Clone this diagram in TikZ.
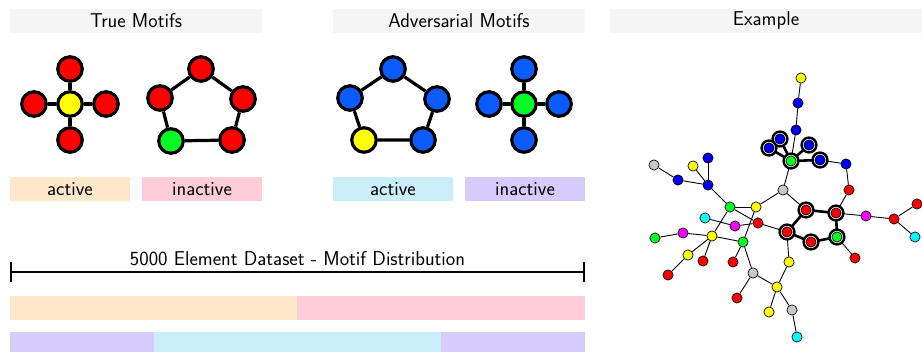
\documentclass[tikz,border=0pt]{standalone}
\usepackage{fontspec}
\usetikzlibrary{backgrounds}
\usetikzlibrary{arrows.meta}

\pgfdeclarelayer{rings}
\pgfsetlayers{background,rings,main}

\definecolor{hdrgray}{HTML}{F5F5F5}
\definecolor{actA}{HTML}{FDE8CC}
\definecolor{inactA}{HTML}{FFCCD9}
\definecolor{actB}{HTML}{CCEEFB}
\definecolor{inactB}{HTML}{D5CCFB}
\definecolor{mblue}{HTML}{0A5CFF}
\definecolor{gblue}{HTML}{0000F5}
\definecolor{mgreen}{HTML}{00FF22}
\definecolor{ggray}{HTML}{C8C8C8}
\definecolor{gred}{HTML}{FF0000}
\definecolor{gyellow}{HTML}{FFFF00}
\definecolor{gcyan}{HTML}{00FFFF}
\definecolor{gmag}{HTML}{FF00FF}

\tikzset{
  hdr/.style={fill=hdrgray, minimum width=252, minimum height=23.5, inner sep=0},
  tag/.style={minimum width=120, minimum height=23.5, inner sep=0},
  motif/.style={circle, draw, line width=3.2, minimum size=24.5, inner sep=0},
  medge/.style={line width=3.2},
  gnode/.style={circle, draw, line width=0.7, minimum size=10.2, inner sep=0},
  gedge/.style={line width=0.9},
  gmot/.style={line width=2.6},
  ring/.style={draw, fill=white, line width=2.4},
}

\begin{document}
\begin{tikzpicture}[x=1pt,y=-1pt,font=\sffamily\fontsize{20}{24}\selectfont]
\useasboundingbox (0,0) rectangle (922,352);

% headers
\node[hdr] (trueH) at (136,21) {True Motifs};
\node[hdr] (advH) at (459,21) {Adversarial Motifs};
\node[hdr, minimum width=312] (exH) at (766,21) {Example};

% true motifs
\node[motif, fill=gyellow] (s1c) at (70,104) {};
\node[motif, fill=gred] (s1t) at (70,69) {};
\node[motif, fill=gred] (s1l) at (34,104) {};
\node[motif, fill=gred] (s1r) at (106,104) {};
\node[motif, fill=gred] (s1b) at (70,140) {};
\draw[medge] (s1c) -- (s1t) (s1c) -- (s1l) (s1c) -- (s1r) (s1c) -- (s1b);

\node[motif, fill=gred] (p1a) at (201,69) {};
\node[motif, fill=gred] (p1b) at (243,99) {};
\node[motif, fill=gred] (p1c) at (232,140) {};
\node[motif, fill=mgreen] (p1d) at (171,141) {};
\node[motif, fill=gred] (p1e) at (160,98) {};
\draw[medge] (p1a) -- (p1b) -- (p1c) -- (p1d) -- (p1e) -- (p1a);

% adversarial motifs
\node[motif, fill=mblue] (p2a) at (393,69) {};
\node[motif, fill=mblue] (p2b) at (437,99) {};
\node[motif, fill=mblue] (p2c) at (423,140) {};
\node[motif, fill=gyellow] (p2d) at (364,140) {};
\node[motif, fill=mblue] (p2e) at (350,98) {};
\draw[medge] (p2a) -- (p2b) -- (p2c) -- (p2d) -- (p2e) -- (p2a);

\node[motif, fill=mgreen] (s2c) at (524,104) {};
\node[motif, fill=mblue] (s2t) at (524,69) {};
\node[motif, fill=mblue] (s2l) at (489,104) {};
\node[motif, fill=mblue] (s2r) at (559,104) {};
\node[motif, fill=mblue] (s2b) at (524,140) {};
\draw[medge] (s2c) -- (s2t) (s2c) -- (s2l) (s2c) -- (s2r) (s2c) -- (s2b);

% labels
\node[tag, fill=actA] (actT) at (70,189) {active};
\node[tag, fill=inactA] (inactT) at (202,189) {inactive};
\node[tag, fill=actB] (actAdv) at (393,189) {active};
\node[tag, fill=inactB] (inactAdv) at (525,189) {inactive};

% distribution
\coordinate (dsL) at (10,272);
\coordinate (dsR) at (585,272);
\draw[line width=1.6, {Bar[width=20]}-{Bar[width=20]}] (dsL) -- (dsR);
\node[anchor=base] (dsT) at (297.5,265.5) {5000 Element Dataset - Motif Distribution};

\fill[actA] (10,296) rectangle (297,319.7);
\fill[inactA] (297,296) rectangle (585,319.7);
\fill[inactB] (10,332) rectangle (154,352);
\fill[actB] (154,332) rectangle (441,352);
\fill[inactB] (441,332) rectangle (585,352);

% example graph
\foreach \n/\x/\y/\c in {Y1/801/78/gyellow, B1/798/103/gblue, B2/796/130/gblue,
    B3/780/139/gblue, B4/769/148/gblue, B5/809/145/gblue, G1/791/161/mgreen,
    B6/820/160/gblue, B7/846/164/gblue, R1/849/190/gred, Gy1/783/190/ggray,
    Gy2/654/165/ggray, Y2/693/166/gyellow, B8/708/158/gblue, B9/678/180/gblue,
    B10/708/185/gblue, G2/730/207/mgreen, Y3/756/207/gyellow, R2/806/210/gred,
    R3/836/213/gred, M1/866/216/gmag, R4/894/219/gred, R5/917/204/gred,
    C1/915/237/gcyan, C2/705/218/gcyan, M2/735/226/gmag, R6/758/223/gred,
    R7/787/232/gred, R8/811/242/gred, G3/837/237/mgreen, R9/855/258/gred,
    G4/655/238/mgreen, M3/683/233/gmag, Y4/712/236/gyellow, G5/743/242/mgreen,
    Y5/688/255/gyellow, R10/703/261/gred, R11/733/262/gred, R12/668/275/gred,
    Y6/789/262/gyellow, Gy3/753/273/ggray, Y7/777/287/gyellow, R13/737/298/gred,
    Y8/769/312/gyellow, Gy4/792/310/ggray, C3/797/337/gcyan}
  \node[gnode, fill=\c] (\n) at (\x,\y) {};

\begin{pgfonlayer}{rings}
\foreach \n in {B3,B4,B5,G1,B6,R2,R3,R7,R8,G3}
  \draw[ring] (\n.center) circle (7.4);
\end{pgfonlayer}

\begin{pgfonlayer}{background}
\foreach \a/\b in {Y1/B1, B1/B2, B2/G1, G1/Gy1, B6/B7, B7/R1, R1/R3, Gy1/Y3,
    Gy1/R2, Gy2/B9, B9/B10, Y2/B10, B8/B10, B10/G2, G2/Y3, G2/Y4, G2/R6,
    Y3/G5, C2/M2, M2/R6, R6/R7, Y4/G5, Y4/M3, M3/G4, Y4/Y5, Y5/R12, Y4/R10,
    G5/R11, G5/Gy3, Gy3/Y7, Gy3/R13, Y7/Y6, Y6/R7, Y7/Y8, Y7/Gy4, Gy4/C3,
    R3/M1, M1/R4, R4/R5, R4/C1, G3/R9}
  \draw[gedge] (\a) -- (\b);
\foreach \a/\b in {G1/B3, G1/B4, G1/B5, G1/B6, R2/R3, R3/G3, G3/R8, R8/R7, R7/R2}
  \draw[gmot] (\a) -- (\b);
\end{pgfonlayer}
\end{tikzpicture}
\end{document}
